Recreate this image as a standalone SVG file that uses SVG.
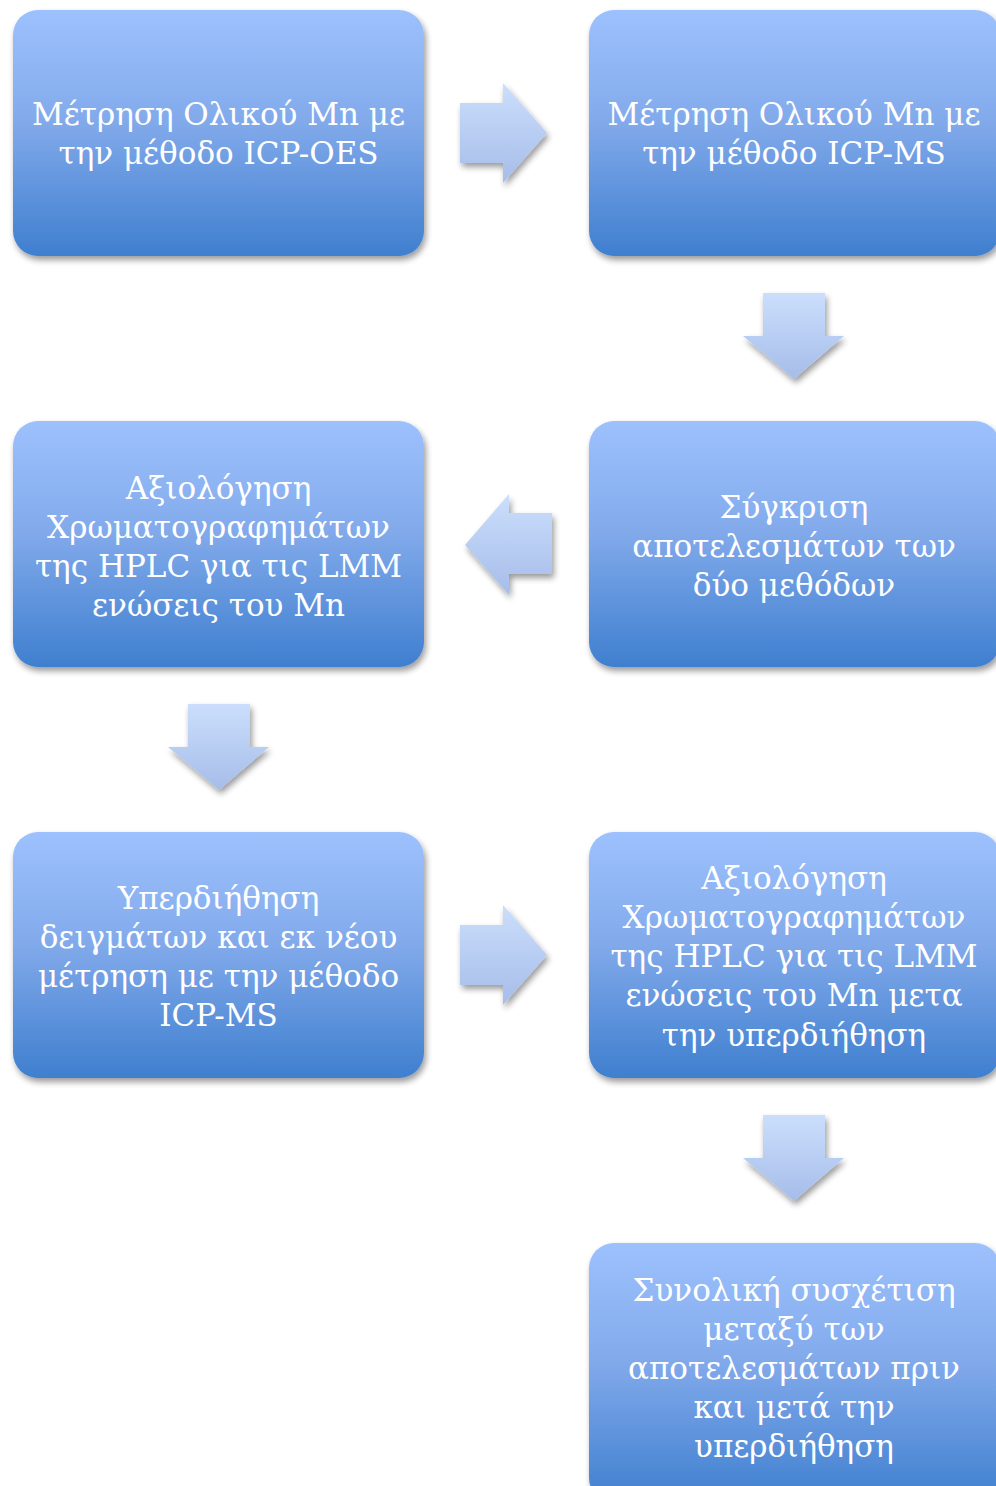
<svg xmlns="http://www.w3.org/2000/svg" width="996" height="1486" viewBox="0 0 996 1486">
<defs>
<linearGradient id="boxg" x1="0" y1="0" x2="0" y2="1">
<stop offset="0" stop-color="#9dc1fd"/>
<stop offset="0.45" stop-color="#82aaeb"/>
<stop offset="1" stop-color="#3f7fcf"/>
</linearGradient>
<linearGradient id="arrg" x1="0" y1="0" x2="0" y2="1">
<stop offset="0" stop-color="#cbdefc"/>
<stop offset="1" stop-color="#a6bde9"/>
</linearGradient>
<filter id="sh" x="-10%" y="-10%" width="125%" height="125%">
<feGaussianBlur in="SourceAlpha" stdDeviation="3"/>
<feOffset dx="2" dy="4" result="b"/>
<feComponentTransfer><feFuncA type="linear" slope="0.4"/></feComponentTransfer>
<feMerge><feMergeNode/><feMergeNode in="SourceGraphic"/></feMerge>
</filter>
</defs>
<style>
.box{fill:url(#boxg);filter:url(#sh)}
.arr{fill:url(#arrg);filter:url(#sh)}
.t{font-family:"DejaVu Serif","Liberation Serif",serif;font-size:31px;fill:#ffffff;text-anchor:middle}
</style>
<g id="connectors">
<polygon class="arr" points="460,103 503,103 503,83 547,133 503,183 503,163 460,163"/>
<polygon class="arr" points="763,293 825,293 825,336 844,336 794,379 743,336 763,336"/>
<polygon class="arr" points="552,513 509,513 509,494 465,545 509,595 509,574 552,574"/>
<polygon class="arr" points="188,704 250,704 250,747 269,747 219,790 168,747 188,747"/>
<polygon class="arr" points="460,925 503,925 503,905 547,955 503,1005 503,985 460,985"/>
<polygon class="arr" points="763,1115 825,1115 825,1158 844,1158 794,1201 743,1158 763,1158"/>
</g>
<g id="n1"><rect class="box" x="13" y="10" width="411" height="246" rx="25"/>
<text class="t" x="218.5" y="125">Μέτρηση Ολικού Mn με</text><text class="t" x="218.5" y="164">την μέθοδο ICP-OES</text></g>
<g id="n2"><rect class="box" x="589" y="10" width="411" height="246" rx="25"/>
<text class="t" x="794" y="125">Μέτρηση Ολικού Mn με</text><text class="t" x="794" y="164">την μέθοδο ICP-MS</text></g>
<g id="n3"><rect class="box" x="589" y="421" width="411" height="246" rx="25"/>
<text class="t" x="794" y="518">Σύγκριση</text><text class="t" x="794" y="557">αποτελεσμάτων των</text><text class="t" x="794" y="596">δύο μεθόδων</text></g>
<g id="n4"><rect class="box" x="13" y="421" width="411" height="246" rx="25"/>
<text class="t" x="218.5" y="499">Αξιολόγηση</text><text class="t" x="218.5" y="538">Χρωματογραφημάτων</text><text class="t" x="218.5" y="577">της HPLC για τις LMM</text><text class="t" x="218.5" y="616">ενώσεις του Mn</text></g>
<g id="n5"><rect class="box" x="13" y="832" width="411" height="246" rx="25"/>
<text class="t" x="218.5" y="909">Υπερδιήθηση</text><text class="t" x="218.5" y="948">δειγμάτων και εκ νέου</text><text class="t" x="218.5" y="987">μέτρηση με την μέθοδο</text><text class="t" x="218.5" y="1026">ICP-MS</text></g>
<g id="n6"><rect class="box" x="589" y="832" width="411" height="246" rx="25"/>
<text class="t" x="794" y="889">Αξιολόγηση</text><text class="t" x="794" y="928">Χρωματογραφημάτων</text><text class="t" x="794" y="967">της HPLC για τις LMM</text><text class="t" x="794" y="1006">ενώσεις του Mn μετα</text><text class="t" x="794" y="1046">την υπερδιήθηση</text></g>
<g id="n7"><rect class="box" x="589" y="1243" width="411" height="260" rx="25"/>
<text class="t" x="794" y="1301">Συνολική συσχέτιση</text><text class="t" x="794" y="1340">μεταξύ των</text><text class="t" x="794" y="1379">αποτελεσμάτων πριν</text><text class="t" x="794" y="1418">και μετά την</text><text class="t" x="794" y="1457">υπερδιήθηση</text></g>
</svg>
